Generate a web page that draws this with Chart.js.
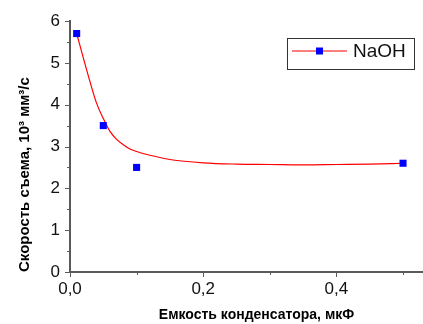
<!DOCTYPE html>
<html>
<head>
<meta charset="utf-8">
<script src="https://cdn.jsdelivr.net/npm/chart.js@4/dist/chart.umd.min.js"></script>
<style>
  html, body { margin: 0; padding: 0; background: #fff; overflow: hidden; }
  #wrap { width: 423px; height: 324px; overflow: hidden; }
</style>
</head>
<body>
<div id="wrap"><canvas id="c" width="448" height="324"></canvas></div>
<script>
// Measured removal rate vs. capacitor capacitance
const capacitance = [0.01, 0.05, 0.1, 0.5];
const removalRate = [5.7, 3.5, 2.5, 2.6];

// Smooth fitted curve through the measurements
const fitX = [0.01, 0.02, 0.03, 0.04, 0.05, 0.06, 0.07, 0.08, 0.09, 0.10, 0.12, 0.15, 0.20, 0.25, 0.30, 0.35, 0.40, 0.45, 0.50];
const fitY = [5.70, 5.12, 4.55, 4.03, 3.67, 3.36, 3.17, 3.04, 2.94, 2.88, 2.79, 2.69, 2.61, 2.58, 2.57, 2.56, 2.57, 2.58, 2.60];

const xMajorTicks = [0, 0.2, 0.4];
const xMinorTicks = [0.1, 0.3, 0.5];
const yMajorTicks = [0, 1, 2, 3, 4, 5, 6];
const yMinorTicks = [0.5, 1.5, 2.5, 3.5, 4.5, 5.5];

const seriesName = 'NaOH';
const xTitle = 'Емкость конденсатора, мкФ';
const yTitle = 'Скорость съема, 10³ мм³/с';

const AXIS_COLOR = '#5a5a5a';
const tickFont = { family: 'Liberation Sans, Arial, sans-serif', size: 17 };
const titleFont = { family: 'Liberation Sans, Arial, sans-serif', size: 14, weight: 'bold' };

const fmt = v => v.toFixed(1).replace('.', ',');

// Outward tick marks (long for labelled values, short in between)
const tickMarks = {
  id: 'tickMarks',
  afterDraw(chart) {
    const { ctx, scales: { x, y } } = chart;
    ctx.save();
    ctx.strokeStyle = AXIS_COLOR;
    ctx.lineWidth = 1;
    const yAxisX = chart.chartArea.left;
    const xAxisY = chart.chartArea.bottom;
    const vTick = (v, len) => {
      const py = Math.round(y.getPixelForValue(v)) + 0.5;
      ctx.beginPath(); ctx.moveTo(yAxisX - len, py); ctx.lineTo(yAxisX, py); ctx.stroke();
    };
    const hTick = (v, len) => {
      const px = Math.round(x.getPixelForValue(v)) + 0.5;
      ctx.beginPath(); ctx.moveTo(px, xAxisY); ctx.lineTo(px, xAxisY + len); ctx.stroke();
    };
    yMajorTicks.forEach(v => vTick(v, 5));
    yMinorTicks.forEach(v => vTick(v, 3));
    xMajorTicks.forEach(v => hTick(v, 5));
    xMinorTicks.forEach(v => hTick(v, 3));
    ctx.restore();
  }
};

// Boxed legend: line with a square marker, then the series name
const boxLegend = {
  id: 'boxLegend',
  afterDraw(chart) {
    const { ctx } = chart;
    const bx = 287.5, by = 38.5, bw = 127, bh = 31;
    const cy = 51;
    ctx.save();
    ctx.fillStyle = '#fff';
    ctx.fillRect(bx, by, bw, bh);
    ctx.strokeStyle = '#333';
    ctx.lineWidth = 1;
    ctx.strokeRect(bx, by, bw, bh);
    const lineDs = chart.data.datasets[1];
    const ptDs = chart.data.datasets[0];
    ctx.strokeStyle = lineDs.borderColor;
    ctx.lineWidth = 1.2;
    ctx.beginPath(); ctx.moveTo(292, cy); ctx.lineTo(347, cy); ctx.stroke();
    ctx.fillStyle = ptDs.backgroundColor;
    ctx.fillRect(316, cy - 3.5, 7, 7);
    ctx.fillStyle = '#111';
    ctx.font = '19px "Liberation Sans", Arial, sans-serif';
    ctx.textBaseline = 'middle';
    ctx.textAlign = 'left';
    ctx.fillText(seriesName, 353, cy + 1);
    ctx.restore();
  }
};

new Chart(document.getElementById('c'), {
  type: 'scatter',
  data: {
    datasets: [
      {
        label: seriesName,
        data: capacitance.map((c, i) => ({ x: c, y: removalRate[i] })),
        backgroundColor: '#0000ff',
        borderColor: '#0000ff',
        pointStyle: 'rect',
        pointRadius: 5,
        pointBorderWidth: 0,
        order: 0
      },
      {
        label: seriesName + ' fit',
        type: 'line',
        data: fitX.map((c, i) => ({ x: c, y: fitY[i] })),
        borderColor: '#ff0000',
        borderWidth: 1.2,
        pointRadius: 0,
        fill: false,
        cubicInterpolationMode: 'monotone',
        order: 1
      }
    ]
  },
  options: {
    responsive: false,
    animation: false,
    devicePixelRatio: 1,
    layout: { padding: { top: 21, right: 0, left: 0, bottom: 0 } },
    plugins: { legend: { display: false }, tooltip: { enabled: false } },
    scales: {
      x: {
        type: 'linear',
        min: 0,
        max: 0.56,
        afterFit: s => { s.height = 52; s.paddingRight = 0; s.paddingLeft = 0; },
        afterBuildTicks: s => { s.ticks = xMajorTicks.map(v => ({ value: v })); },
        grid: { display: false, drawTicks: false },
        border: { display: true, color: AXIS_COLOR, width: 2 },
        ticks: { color: '#111', font: tickFont, padding: 7, maxRotation: 0, callback: v => fmt(v) },
        title: { display: true, text: xTitle, color: '#000', font: titleFont, padding: 0 }
      },
      y: {
        type: 'linear',
        min: 0,
        max: 6,
        afterFit: s => { s.width = 70; s.paddingTop = 0; s.paddingBottom = 0; },
        afterBuildTicks: s => { s.ticks = yMajorTicks.map(v => ({ value: v })); },
        grid: { display: false, drawTicks: false },
        border: { display: true, color: AXIS_COLOR, width: 2 },
        ticks: { color: '#111', font: tickFont, padding: 10, callback: v => String(v) },
        title: { display: true, text: yTitle, color: '#000', font: { family: 'Liberation Sans, Arial, sans-serif', size: 15, weight: 'bold' }, align: 'start', padding: { top: 16, bottom: 0 } }
      }
    }
  },
  plugins: [tickMarks, boxLegend]
});
</script>
</body>
</html>
